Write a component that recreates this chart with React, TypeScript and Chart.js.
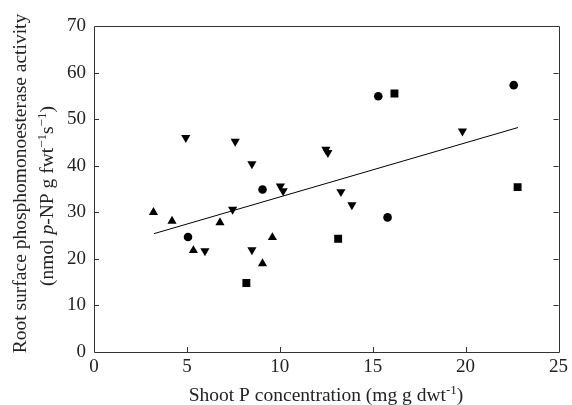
import React, { useEffect, useRef } from "react";
import { Chart, registerables } from "chart.js";

Chart.register(...registerables);

// ---- data ----
const circleX = [5.06, 9.07, 15.3, 15.8, 22.59];
const circleY = [24.7, 34.9, 54.9, 28.9, 57.3];

const squareX = [8.2, 13.14, 16.17, 22.8];
const squareY = [14.8, 24.3, 55.5, 35.4];

const upX = [3.2, 4.2, 5.35, 6.78, 9.07, 9.6];
const upY = [30.0, 28.1, 21.8, 27.8, 19.0, 24.6];

const downX = [4.94, 5.97, 7.46, 7.6, 8.5, 8.5, 10.03, 10.18, 12.48, 12.59, 13.29, 13.88, 19.83];
const downY = [46.0, 21.7, 30.6, 45.2, 40.4, 21.9, 35.6, 34.6, 43.5, 42.8, 34.4, 31.6, 47.4];

const fitX = [3.22, 22.82];
const fitY = [25.4, 48.2];

const xTicks = [0, 5, 10, 15, 20, 25];
const yTicks = [0, 10, 20, 30, 40, 50, 60, 70];

const xTitle = [
  { t: "Shoot P concentration (mg g dwt" },
  { t: "-1", sup: true },
  { t: ")" },
];
const yTitle1 = [{ t: "Root surface phosphomonoesterase activity" }];
const yTitle2 = [
  { t: "(nmol " },
  { t: "p", it: true },
  { t: "-NP g fwt" },
  { t: "\u22121", sup: true },
  { t: "s" },
  { t: "\u22121", sup: true },
  { t: ")" },
];

const FONT = "'Liberation Serif', 'Times New Roman', serif";
const FS = 19.5;
const TICK_FS = 19;

type Seg = { t: string; sup?: boolean; it?: boolean };

function segFont(s: Seg) {
  const size = s.sup ? Math.round(FS * 0.68) : FS;
  return `${s.it ? "italic " : ""}${size}px ${FONT}`;
}

function drawRich(ctx: CanvasRenderingContext2D, segs: Seg[], cx: number, cy: number) {
  let total = 0;
  for (const s of segs) {
    ctx.font = segFont(s);
    total += ctx.measureText(s.t).width;
  }
  let x = cx - total / 2;
  ctx.textBaseline = "alphabetic";
  ctx.textAlign = "left";
  const base = cy + FS * 0.33;
  for (const s of segs) {
    ctx.font = segFont(s);
    ctx.fillText(s.t, x, s.sup ? base - FS * 0.38 : base);
    x += ctx.measureText(s.t).width;
  }
}

const framePlugin = {
  id: "frame",
  afterDraw(chart: any) {
    const { ctx, chartArea: a, scales } = chart;
    const xs = scales.x;
    const ys = scales.y;
    ctx.save();
    ctx.strokeStyle = "#333";
    ctx.lineWidth = 1;
    ctx.beginPath();
    ctx.rect(Math.round(a.left) + 0.5, Math.round(a.top) + 0.5, Math.round(a.right - a.left), Math.round(a.bottom - a.top));
    ctx.stroke();
    const tl = 5;
    ctx.beginPath();
    for (const v of xTicks) {
      if (v === xTicks[0] || v === xTicks[xTicks.length - 1]) continue;
      const px = Math.round(xs.getPixelForValue(v)) + 0.5;
      ctx.moveTo(px, a.bottom);
      ctx.lineTo(px, a.bottom - tl);
    }
    for (const v of yTicks) {
      if (v === yTicks[0] || v === yTicks[yTicks.length - 1]) continue;
      const py = Math.round(ys.getPixelForValue(v)) + 0.5;
      ctx.moveTo(a.left, py);
      ctx.lineTo(a.left + tl, py);
      ctx.moveTo(a.right, py);
      ctx.lineTo(a.right - tl, py);
    }
    ctx.stroke();

    ctx.fillStyle = "#222";
    drawRich(ctx, xTitle, 326, 395);
    ctx.save();
    ctx.translate(20, 183.5);
    ctx.rotate(-Math.PI / 2);
    drawRich(ctx, yTitle1, 0, 0);
    ctx.restore();
    ctx.save();
    ctx.translate(47, 196);
    ctx.rotate(-Math.PI / 2);
    drawRich(ctx, yTitle2, 0, 0);
    ctx.restore();
    ctx.restore();
  },
};

function pts(xs: number[], ys: number[]) {
  return xs.map((x, i) => ({ x, y: ys[i] }));
}

export default function App() {
  const ref = useRef<HTMLCanvasElement | null>(null);
  useEffect(() => {
    if (!ref.current) return;
    const black = "#000";
    const chart = new Chart(ref.current, {
      type: "scatter",
      data: {
        datasets: [
          {
            type: "line",
            data: pts(fitX, fitY),
            borderColor: black,
            borderWidth: 1,
            pointRadius: 0,
            fill: false,
          } as any,
          {
            data: pts(circleX, circleY),
            pointStyle: "circle",
            pointRadius: 4.3,
            backgroundColor: black,
            borderColor: black,
            borderWidth: 0,
          },
          {
            data: pts(squareX, squareY),
            pointStyle: "rect",
            pointRadius: 5.6,
            backgroundColor: black,
            borderColor: black,
            borderWidth: 0,
          },
          {
            data: pts(upX, upY),
            pointStyle: "triangle",
            pointRadius: 5.3,
            backgroundColor: black,
            borderColor: black,
            borderWidth: 0,
          },
          {
            data: pts(downX, downY),
            pointStyle: "triangle",
            rotation: 180,
            pointRadius: 5.3,
            backgroundColor: black,
            borderColor: black,
            borderWidth: 0,
          },
        ],
      },
      options: {
        animation: false,
        responsive: false,
        maintainAspectRatio: false,
        layout: { padding: { left: 54, right: 11, top: 26, bottom: 23 } },
        plugins: { legend: { display: false }, tooltip: { enabled: false } },
        scales: {
          x: {
            type: "linear",
            min: 0,
            max: 25,
            afterBuildTicks: (s: any) => {
              s.ticks = xTicks.map((v) => ({ value: v }));
            },
            afterFit: (s: any) => {
              s.height = 30;
            },
            grid: { display: false, drawTicks: false },
            border: { display: false },
            ticks: { padding: 4, color: "#222", font: { family: FONT, size: TICK_FS } },
          },
          y: {
            type: "linear",
            min: 0,
            max: 70,
            afterBuildTicks: (s: any) => {
              s.ticks = yTicks.map((v) => ({ value: v }));
            },
            afterFit: (s: any) => {
              s.width = 40;
            },
            grid: { display: false, drawTicks: false },
            border: { display: false },
            ticks: { padding: 8, color: "#222", font: { family: FONT, size: TICK_FS } },
          },
        },
      },
      plugins: [framePlugin],
    });
    return () => chart.destroy();
  }, []);
  return (
    <div style={{ position: "fixed", left: 0, top: 0, width: 572, height: 405, background: "#fff" }}>
      <canvas ref={ref} width={572} height={405} style={{ width: 572, height: 405 }} />
    </div>
  );
}
